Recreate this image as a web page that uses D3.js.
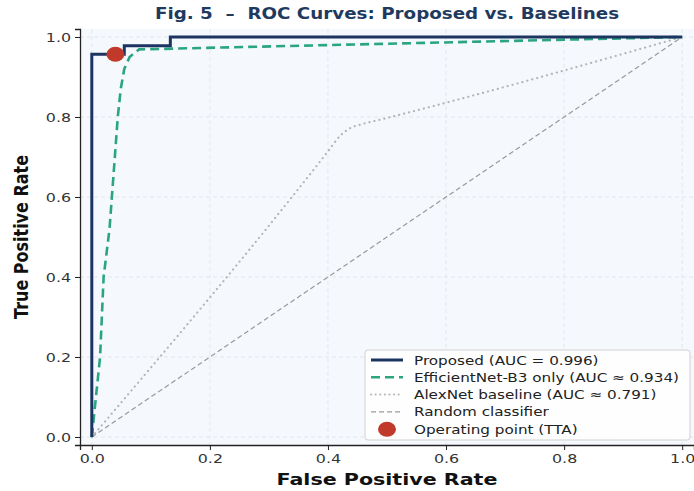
<!DOCTYPE html>
<html>
<head>
<meta charset="utf-8">
<script src="https://cdn.jsdelivr.net/npm/d3@7"></script>
<style>
  body { margin: 0; background: #fff; }
  svg { display: block; font-family: "DejaVu Sans", sans-serif; }
  text { white-space: pre; }
</style>
</head>
<body>
<div id="chart"></div>
<script>
// ROC points
var proposedFpr = [0, 0, 0.055, 0.055, 0.133, 0.133, 1.0];
var proposedTpr = [0, 0.957, 0.957, 0.978, 0.978, 1.0, 1.0];

var effFpr = [0, 0.014, 0.02, 0.03, 0.044, 0.049, 0.055, 0.064, 0.08, 1.0];
var effTpr = [0, 0.2, 0.4, 0.52, 0.8, 0.87, 0.92, 0.95, 0.969, 1.0];

var alexFpr = [0, 0.40, 0.42, 0.435, 0.46, 0.49, 1.0];
var alexTpr = [0, 0.714, 0.752, 0.77, 0.783, 0.794, 1.0];

var randomFpr = [0, 1];
var randomTpr = [0, 1];

var opPoint = [0.04, 0.957];

var tickValues = [0, 0.2, 0.4, 0.6, 0.8, 1.0];
var legendLabels = ["Proposed (AUC = 0.996)", "EfficientNet-B3 only (AUC \u2248 0.934)",
    "AlexNet baseline (AUC \u2248 0.791)", "Random classifier", "Operating point (TTA)"];

var width = 694, height = 491;
var margin = { top: 29, right: 0, bottom: 46, left: 80 };
var w = width - margin.left - margin.right,
    h = height - margin.top - margin.bottom;
var stretch = 1.22; // the figure's text is a bit wide

var svg = d3.select("#chart").append("svg")
    .attr("width", width).attr("height", height);

var g = svg.append("g")
    .attr("transform", "translate(" + margin.left + "," + margin.top + ")");

var x = d3.scaleLinear().domain([-0.02, 1.02]).range([0, w]);
var y = d3.scaleLinear().domain([-0.02, 1.02]).range([h, 0]);

// axes background
g.append("rect").attr("width", w).attr("height", h).attr("fill", "#f5f9fd");

// grid
g.selectAll(".gx").data(tickValues).enter().append("line")
    .attr("x1", function(d){ return x(d); }).attr("x2", function(d){ return x(d); })
    .attr("y1", 0).attr("y2", h)
    .attr("stroke", "#dde3ea").attr("stroke-width", 0.8).attr("stroke-dasharray", "4,3");
g.selectAll(".gy").data(tickValues).enter().append("line")
    .attr("y1", function(d){ return y(d); }).attr("y2", function(d){ return y(d); })
    .attr("x1", 0).attr("x2", w)
    .attr("stroke", "#dde3ea").attr("stroke-width", 0.8).attr("stroke-dasharray", "4,3");

function pts(xs, ys) { return xs.map(function(v, i){ return [v, ys[i]]; }); }
var line = d3.line().x(function(d){ return x(d[0]); }).y(function(d){ return y(d[1]); });

// random classifier
g.append("path").datum(pts(randomFpr, randomTpr))
    .attr("d", line).attr("fill", "none")
    .attr("stroke", "#999999").attr("stroke-width", 1.2).attr("stroke-dasharray", "5,3");

// alexnet
g.append("path").datum(pts(alexFpr, alexTpr))
    .attr("d", line.curve(d3.curveMonotoneX)).attr("fill", "none")
    .attr("stroke", "#b5b5b5").attr("stroke-width", 2.2)
    .attr("stroke-dasharray", "0.1,5").attr("stroke-linecap", "round");
line.curve(d3.curveLinear);

// efficientnet
g.append("path").datum(pts(effFpr, effTpr))
    .attr("d", line).attr("fill", "none")
    .attr("stroke", "#2aa57f").attr("stroke-width", 2.6).attr("stroke-dasharray", "9,5");

// proposed
g.append("path").datum(pts(proposedFpr, proposedTpr))
    .attr("d", line).attr("fill", "none")
    .attr("stroke", "#1c3461").attr("stroke-width", 3).attr("stroke-linejoin", "miter");

// operating point
g.append("ellipse")
    .attr("cx", x(opPoint[0])).attr("cy", y(opPoint[1]))
    .attr("rx", 9).attr("ry", 7.5).attr("fill", "#c0392b");

// axes
var xAxis = g.append("g").attr("transform", "translate(0," + h + ")")
    .call(d3.axisBottom(x).tickValues(tickValues).tickFormat(d3.format(".1f")).tickSize(5).tickPadding(4));
var yAxis = g.append("g")
    .call(d3.axisLeft(y).tickValues(tickValues).tickFormat(d3.format(".1f")).tickSize(5).tickPadding(4));
[xAxis, yAxis].forEach(function(a){
    a.select(".domain").attr("stroke", "#222").attr("stroke-width", 1.3);
    a.selectAll(".tick line").attr("stroke", "#222").attr("stroke-width", 1);
    a.selectAll("text").attr("font-size", "13px").attr("fill", "#333")
        .attr("font-family", "DejaVu Sans, sans-serif")
        .attr("transform", "scale(" + stretch + ",1)");
});
yAxis.selectAll("text").attr("x", -9 / stretch);

// title and labels (wide text done with a horizontal scale)
function wideText(px, py, sx, size, fill, str) {
    svg.append("text")
        .attr("transform", "translate(" + px + "," + py + ") scale(" + sx + ",1)")
        .attr("text-anchor", "middle").attr("font-size", size).attr("font-weight", "bold")
        .attr("fill", fill).text(str);
}
wideText(margin.left + w / 2, 19, 1.22, "15px", "#1f3a5f", "Fig. 5  \u2013  ROC Curves: Proposed vs. Baselines");
wideText(margin.left + w / 2, 485, 1.25, "16.5px", "#111", "False Positive Rate");
svg.append("text")
    .attr("transform", "translate(28," + (margin.top + h / 2) + ") scale(1.2,1) rotate(-90)")
    .attr("text-anchor", "middle").attr("font-size", "16px").attr("font-weight", "bold")
    .attr("fill", "#111").text("True Positive Rate");

// legend
var lg = svg.append("g").attr("transform", "translate(365,350)");
lg.append("rect").attr("width", 325).attr("height", 90).attr("rx", 3)
    .attr("fill", "#fff").attr("fill-opacity", 0.85)
    .attr("stroke", "#d0d0d0").attr("stroke-width", 1);
var styles = [
    { stroke: "#1c3461", sw: 3, dash: null },
    { stroke: "#2aa57f", sw: 2.6, dash: "9,5" },
    { stroke: "#b5b5b5", sw: 2, dash: "0.1,4.5", cap: "round" },
    { stroke: "#999999", sw: 1.2, dash: "5,3" },
    { dot: true }
];
legendLabels.forEach(function(lbl, i){
    var yy = 10 + i * 17.3;
    var s = styles[i];
    if (s.dot) {
        lg.append("ellipse").attr("cx", 22).attr("cy", yy).attr("rx", 9).attr("ry", 7.5).attr("fill", "#c0392b");
    } else {
        lg.append("line").attr("x1", 6).attr("x2", 38).attr("y1", yy).attr("y2", yy)
            .attr("stroke", s.stroke).attr("stroke-width", s.sw)
            .attr("stroke-dasharray", s.dash).attr("stroke-linecap", s.cap || "butt");
    }
    lg.append("text").attr("transform", "translate(49," + (yy + 4.5) + ") scale(1.17,1)")
        .attr("font-size", "13px").attr("fill", "#222").text(lbl);
});
</script>
</body>
</html>
